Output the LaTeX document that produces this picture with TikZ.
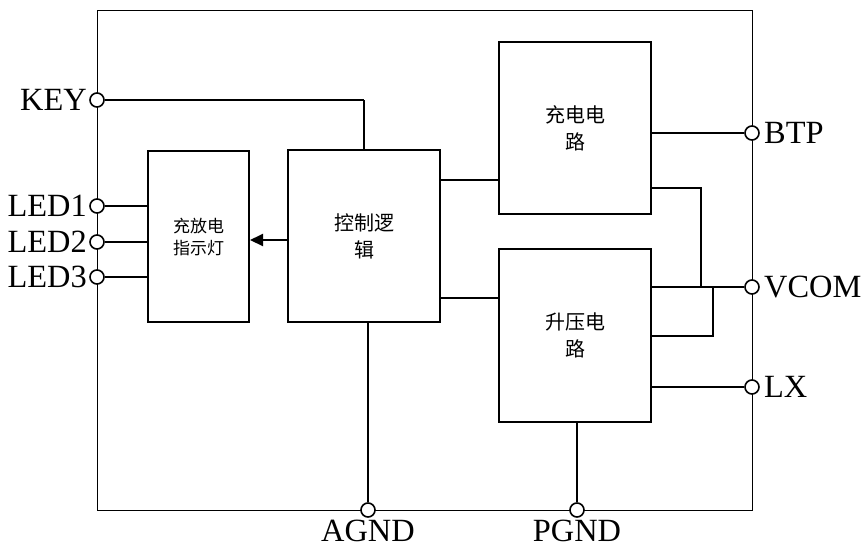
\documentclass[tikz,border=0pt]{standalone}
\usepackage{fontspec}
\setmainfont{Liberation Serif}
\newfontfamily\cjk{Noto Sans CJK SC}
\usetikzlibrary{arrows.meta,positioning}
\tikzset{
  block/.style={draw, line width=1pt, inner sep=0pt, align=center, font=\cjk\fontsize{10}{13.5}\selectfont},
  pin/.style={draw, circle, fill=white, line width=0.8pt, inner sep=0pt, minimum size=7pt},
  pinname/.style={inner sep=1pt, font=\fontsize{16.2}{18}\selectfont},
  wire/.style={line width=1pt},
  thinwire/.style={line width=0.6pt}
}
\begin{document}
\begin{tikzpicture}[x=0.5pt,y=-0.5pt,>={Triangle[length=6.5pt,width=6pt]}]
 \useasboundingbox (0,0) rectangle (864,548);
 \draw[line width=0.5pt] (97,10) rectangle (752,510);
 % blocks
 \node[block, minimum width=50.5pt, minimum height=85.5pt, font=\cjk\fontsize{8.5}{11}\selectfont] (led) at (198.5,236.5) {充放电\\指示灯};
 \node[block, minimum width=76pt, minimum height=86pt] (ctrl) at (364,236) {控制逻\\辑};
 \node[block, minimum width=76pt, minimum height=86pt] (chg) at (575,128) {充电电\\路};
 \node[block, minimum width=76pt, minimum height=86.5pt] (boost) at (575,335.5) {升压电\\路};
 % internal wiring
 \draw[wire] (ctrl.east |- 0,180) -- (chg.west |- 0,180);
 \draw[wire] (ctrl.east |- 0,298) -- (boost.west |- 0,298);
 \draw[wire] (boost.east |- 0,287) -| (713,336) -- (boost.east |- 0,336);
 \draw[thinwire] (chg.east |- 0,188) -| (701,287);
 % pins
 \node[pin] (key) at (97,100) {};
 \node[pin] (led1) at (97,206) {};
 \node[pin] (led2) at (97,242) {};
 \node[pin] (led3) at (97,277) {};
 \node[pin] (btp) at (752,133) {};
 \node[pin] (vcom) at (752,287) {};
 \node[pin] (lx) at (752,387) {};
 \node[pin] (agnd) at (368,510) {};
 \node[pin] (pgnd) at (577,510) {};
 \node[pinname, left=0pt of key] (keytext) {KEY};
 \node[pinname, left=0pt of led1] (led1text) {LED1};
 \node[pinname, left=0pt of led2] (led2text) {LED2};
 \node[pinname, left=0pt of led3] (led3text) {LED3};
 \node[pinname, right=1pt of btp] (btptext) {BTP};
 \node[pinname, right=1pt of vcom] (vcomtext) {VCOM};
 \node[pinname, right=1pt of lx] (lxtext) {LX};
 \node[pinname, below=0pt of agnd] (agndtext) {AGND};
 \node[pinname, below=0pt of pgnd] (pgndtext) {PGND};
 % pin wiring
 \draw[wire] (key) -- (364,100);
 \draw[thinwire] (364,100) -- (ctrl.north);
 \draw[wire] (led1) -- (led1 -| led.west);
 \draw[wire] (led2) -- (led2 -| led.west);
 \draw[wire] (led3) -- (led3 -| led.west);
 \draw[wire, ->] (ctrl.west |- 0,240) -- (led.east |- 0,240);
 \draw[wire] (chg.east |- btp) -- (btp);
 \draw[wire] (boost.east |- vcom) -- (vcom);
 \draw[wire] (boost.east |- lx) -- (lx);
 \draw[wire] (agnd |- ctrl.south) -- (agnd);
 \draw[wire] (pgnd |- boost.south) -- (pgnd);
\end{tikzpicture}
\end{document}
